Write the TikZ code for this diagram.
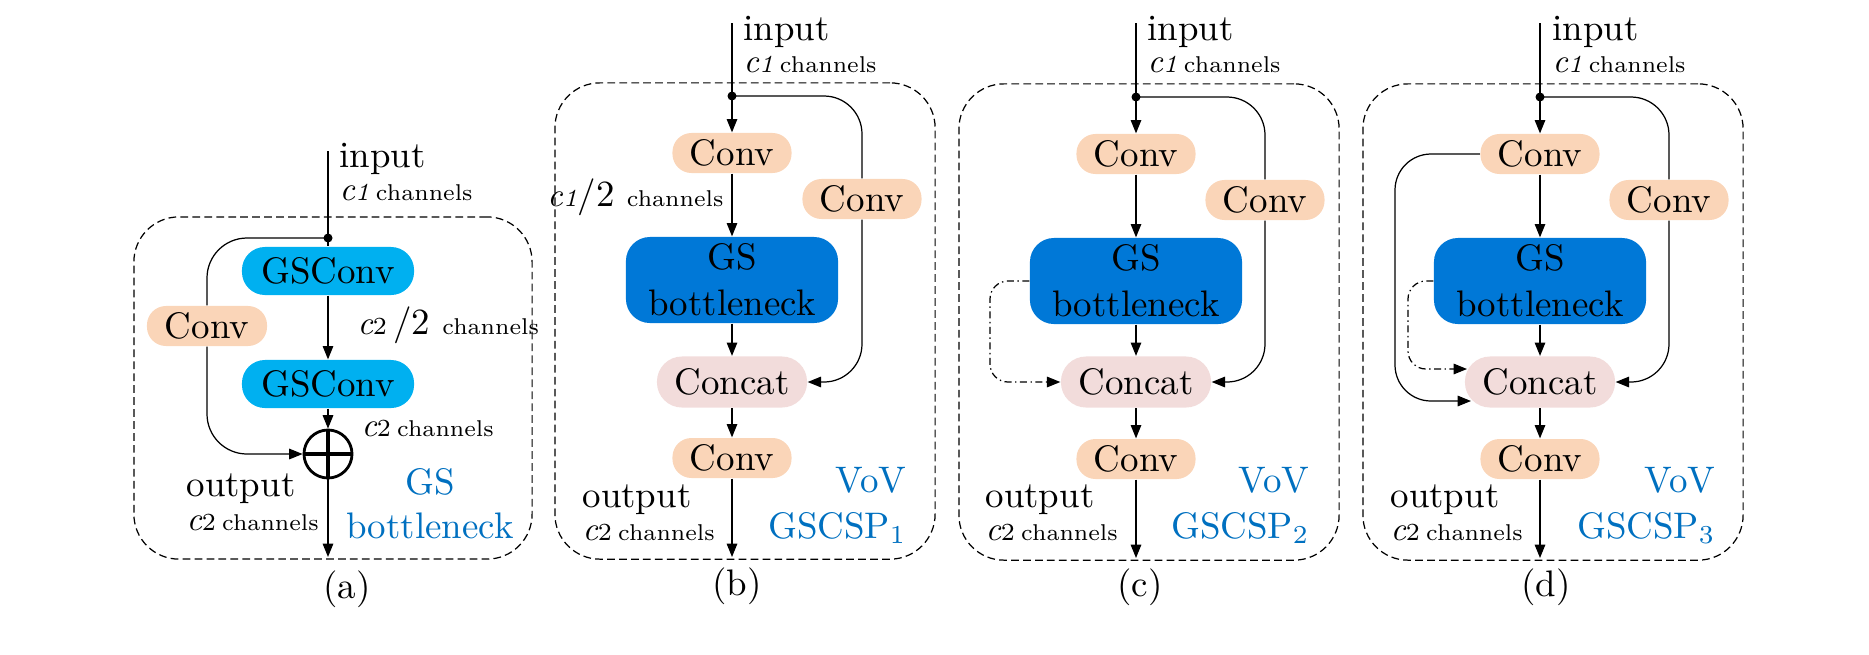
\documentclass[tikz,border=0pt]{standalone}
\usepackage{tikz}
\usetikzlibrary{arrows.meta,positioning}

\definecolor{convorange}{HTML}{FAD5B8}
\definecolor{gscyan}{HTML}{00B0F0}
\definecolor{gsblue}{HTML}{0078D7}
\definecolor{concatpink}{HTML}{F2DCDB}
\definecolor{labelblue}{HTML}{0070C0}

\newcommand{\cvar}[1]{{\fontsize{9.5}{10}\selectfont\itshape c}{\fontsize{7}{8}\selectfont #1}}
\newcommand{\chtxt}{{\fontsize{6.5}{7}\selectfont channels}}

\begin{document}
\begin{tikzpicture}[x=0.01cm,y=-0.01cm,
  font=\fontsize{10.5}{12}\selectfont,
  line width=0.35pt,
  >={Triangle[length=3.8pt,width=3pt]},
  convbox/.style={rectangle,fill=convorange,rounded corners=0.19cm,minimum width=1.19cm,minimum height=0.4cm,inner sep=0pt},
  gsconvbox/.style={rectangle,fill=gscyan,rounded corners=0.23cm,minimum width=1.72cm,minimum height=0.48cm,inner sep=0pt},
  gsbox/.style={rectangle,fill=gsblue,rounded corners=0.24cm,minimum width=2.12cm,minimum height=0.86cm,inner sep=0pt,align=center,font=\fontsize{10.5}{13}\selectfont},
  concatbox/.style={rectangle,fill=concatpink,rounded corners=0.25cm,minimum width=1.5cm,minimum height=0.51cm,inner sep=0pt},
  panelbox/.style={rectangle,draw,dash pattern=on 2.2pt off 1.2pt,rounded corners=0.45cm,minimum width=3.8cm,minimum height=4.76cm},
  junction/.style={circle,fill,inner sep=0pt,minimum size=0.09cm},
  txt/.style={inner sep=0pt,anchor=base west},
  bluetxt/.style={inner sep=0pt,text=labelblue},
  dashdot/.style={dash pattern=on 2pt off 1pt on 0.4pt off 1pt}
]
\useasboundingbox (0,0) rectangle (1869,654);

% (a) GS bottleneck
\node[panelbox,minimum width=3.98cm,minimum height=3.42cm] (a_box) at (333,388) {};
\coordinate (a_top) at (328,151);
\node[junction] (a_dot) at (328,238) {};
\node[gsconvbox] (a_gsconv1) at (328,271) {GSConv};
\node[gsconvbox] (a_gsconv2) at (328,384) {GSConv};
\node[convbox,minimum width=1.2cm] (a_conv) at (207,326) {Conv};
\node[circle,draw,line width=0.8pt,minimum size=0.48cm,inner sep=0pt] (a_add) at (328,454) {};
\draw[line width=1.3pt] (a_add.north) -- (a_add.south) (a_add.west) -- (a_add.east);
\coordinate (a_bot) at (328,557);

\node[txt] (a_in) at (339,167) {input};
\node[txt] (a_inch) at (339,200) {\cvar{\itshape 1}\,\chtxt};
\node[txt] (a_half) at (357,334) {\cvar{2}\,/2 \chtxt};
\node[txt] (a_addch) at (361,436) {\cvar{2}\,\chtxt};
\node[txt] (a_out) at (186,496) {output};
\node[txt] (a_outch) at (186,530) {\cvar{2}\,\chtxt};
\node[bluetxt,anchor=base] (a_name1) at (430,494) {GS};
\node[bluetxt,anchor=base] (a_name2) at (430,538) {bottleneck};
\node (a_cap) at (347,589) {(a)};

\draw (a_top) -- (a_gsconv1);
\draw[rounded corners=0.4cm] (a_dot.center) -| (a_conv.north);
\draw[->,rounded corners=0.4cm] (a_conv.south) |- (a_add.west);
\draw[->] (a_gsconv1) -- (a_gsconv2);
\draw[->] (a_gsconv2) -- (a_add);
\draw[->] (a_add) -- (a_bot);

% (b) VoV-GSCSP1
\node[panelbox] (b_box) at (745,321) {};
\coordinate (b_top) at (732,23);
\node[junction] (b_dot) at (732,96) {};
\node[convbox] (b_conv1) at (732,153) {Conv};
\node[convbox] (b_convr) at (862,199) {Conv};
\node[gsbox] (b_gs) at (732,280) {GS\\bottleneck};
\node[concatbox] (b_concat) at (732,382) {Concat};
\node[convbox] (b_conv2) at (732,458) {Conv};
\coordinate (b_bot) at (732,557);

\node[txt] (b_in) at (743,40) {input};
\node[txt] (b_inch) at (743,72) {\cvar{\itshape 1}\,\chtxt};
\node[txt,anchor=base east] (b_half) at (724,206) {\cvar{\itshape 1}/2 \chtxt};
\node[txt] (b_out) at (582,507) {output};
\node[txt] (b_outch) at (582,540) {\cvar{2}\,\chtxt};
\node[bluetxt,anchor=base east] (b_name1) at (907,492) {VoV};
\node[bluetxt,anchor=base east] (b_name2) at (907,538) {GSCSP\textsubscript{1}};
\node (b_cap) at (737,586) {(b)};

\draw[->] (b_top) -- (b_conv1);
\draw[rounded corners=0.38cm] (b_dot.center) -| (b_convr.north);
\draw[->,rounded corners=0.38cm] (b_convr.south) |- (b_concat.east);
\draw[->] (b_conv1) -- (b_gs);
\draw[->] (b_gs) -- (b_concat);
\draw[->] (b_concat) -- (b_conv2);
\draw[->] (b_conv2) -- (b_bot);

% (c) VoV-GSCSP2
\node[panelbox] (c_box) at (1149,322) {};
\coordinate (c_top) at (1136,23);
\node[junction] (c_dot) at (1136,97) {};
\node[convbox] (c_conv1) at (1136,154) {Conv};
\node[convbox] (c_convr) at (1265,200) {Conv};
\node[gsbox] (c_gs) at (1136,281) {GS\\bottleneck};
\node[concatbox] (c_concat) at (1136,382) {Concat};
\node[convbox] (c_conv2) at (1136,459) {Conv};
\coordinate (c_bot) at (1136,558);
\coordinate (c_loop) at (990,382);

\node[txt] (c_in) at (1147,40) {input};
\node[txt] (c_inch) at (1147,72) {\cvar{\itshape 1}\,\chtxt};
\node[txt] (c_out) at (985,507) {output};
\node[txt] (c_outch) at (985,540) {\cvar{2}\,\chtxt};
\node[bluetxt,anchor=base east] (c_name1) at (1310,492) {VoV};
\node[bluetxt,anchor=base east] (c_name2) at (1310,538) {GSCSP\textsubscript{2}};
\node (c_cap) at (1140,587) {(c)};

\draw[->] (c_top) -- (c_conv1);
\draw[rounded corners=0.38cm] (c_dot.center) -| (c_convr.north);
\draw[->,rounded corners=0.38cm] (c_convr.south) |- (c_concat.east);
\draw[->] (c_conv1) -- (c_gs);
\draw[->] (c_gs) -- (c_concat);
\draw[->] (c_concat) -- (c_conv2);
\draw[->] (c_conv2) -- (c_bot);
\draw[dashdot,->,rounded corners=0.18cm] (c_gs.west) -| (c_loop) -- (c_concat.west);

% (d) VoV-GSCSP3
\node[panelbox] (d_box) at (1553,322) {};
\coordinate (d_top) at (1540,23);
\node[junction] (d_dot) at (1540,97) {};
\node[convbox] (d_conv1) at (1540,154) {Conv};
\node[convbox] (d_convr) at (1669,200) {Conv};
\node[gsbox] (d_gs) at (1540,281) {GS\\bottleneck};
\node[concatbox] (d_concat) at (1540,382) {Concat};
\node[convbox] (d_conv2) at (1540,459) {Conv};
\coordinate (d_bot) at (1540,558);
\coordinate (d_loop1) at (1395,401);
\coordinate (d_end1) at (1471,401);
\coordinate (d_loop2) at (1408,369);
\coordinate (d_end2) at (1467,369);

\node[txt] (d_in) at (1552,40) {input};
\node[txt] (d_inch) at (1552,72) {\cvar{\itshape 1}\,\chtxt};
\node[txt] (d_out) at (1390,507) {output};
\node[txt] (d_outch) at (1390,540) {\cvar{2}\,\chtxt};
\node[bluetxt,anchor=base east] (d_name1) at (1716,492) {VoV};
\node[bluetxt,anchor=base east] (d_name2) at (1716,538) {GSCSP\textsubscript{3}};
\node (d_cap) at (1546,587) {(d)};

\draw[->] (d_top) -- (d_conv1);
\draw[rounded corners=0.38cm] (d_dot.center) -| (d_convr.north);
\draw[->,rounded corners=0.38cm] (d_convr.south) |- (d_concat.east);
\draw[->] (d_conv1) -- (d_gs);
\draw[->] (d_gs) -- (d_concat);
\draw[->] (d_concat) -- (d_conv2);
\draw[->] (d_conv2) -- (d_bot);
\draw[->,rounded corners=0.36cm] (d_conv1.west) -| (d_loop1) -- (d_end1);
\draw[dashdot,->,rounded corners=0.18cm] (d_gs.west) -| (d_loop2) -- (d_end2);
\end{tikzpicture}
\end{document}
